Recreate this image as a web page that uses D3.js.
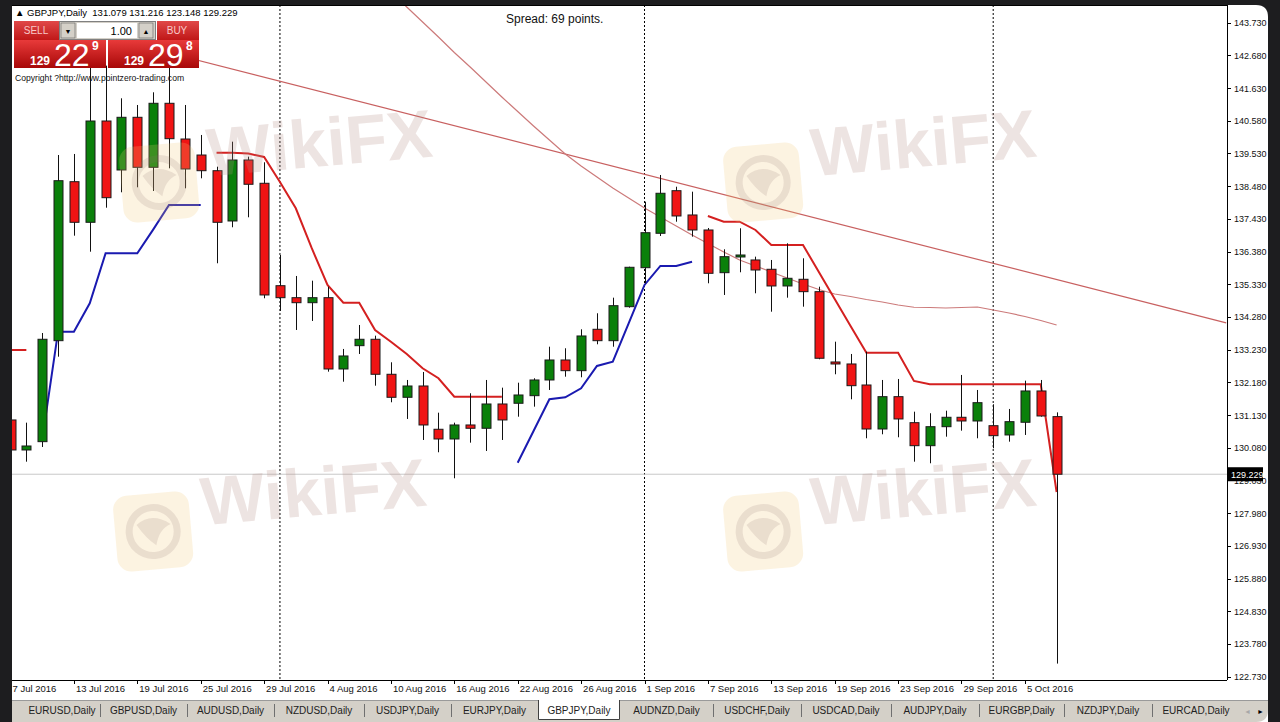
<!DOCTYPE html>
<html><head><meta charset="utf-8">
<script src="https://cdn.jsdelivr.net/npm/d3@7"></script>
<style>
html,body{margin:0;padding:0;background:#1d1d1f;overflow:hidden}
svg{display:block}
text{font-family:"Liberation Sans",Arial,sans-serif}
</style></head><body>
<svg id="c" width="1280" height="722"></svg>
<script>
// ---------------- DATA ----------------
const symbolTitle = "GBPJPY,Daily";
const dates = [
"2016-07-07","2016-07-08","2016-07-11","2016-07-12","2016-07-13","2016-07-14","2016-07-15","2016-07-18","2016-07-19","2016-07-20","2016-07-21","2016-07-22","2016-07-25","2016-07-26","2016-07-27","2016-07-28","2016-07-29",
"2016-08-01","2016-08-02","2016-08-03","2016-08-04","2016-08-05","2016-08-08","2016-08-09","2016-08-10","2016-08-11","2016-08-12","2016-08-15","2016-08-16","2016-08-17","2016-08-18","2016-08-19","2016-08-22","2016-08-23","2016-08-24","2016-08-25","2016-08-26","2016-08-29","2016-08-30","2016-08-31",
"2016-09-01","2016-09-02","2016-09-05","2016-09-06","2016-09-07","2016-09-08","2016-09-09","2016-09-12","2016-09-13","2016-09-14","2016-09-15","2016-09-16","2016-09-19","2016-09-20","2016-09-21","2016-09-22","2016-09-23","2016-09-26","2016-09-27","2016-09-28","2016-09-29","2016-09-30",
"2016-10-03","2016-10-04","2016-10-05","2016-10-06","2016-10-07"];
const open = [130.972,130.008,130.275,133.518,138.624,137.320,140.573,139.000,140.692,139.086,141.142,139.995,139.481,138.977,137.362,139.321,138.573,
135.284,134.899,134.738,134.899,132.609,133.358,133.563,132.439,131.700,132.063,130.673,130.361,130.811,130.705,131.485,131.508,131.752,132.256,132.898,132.555,133.884,133.518,134.610,
135.862,136.967,138.335,137.555,137.073,135.702,136.216,136.110,135.811,135.275,135.490,135.092,132.834,132.770,132.095,130.682,131.720,130.885,130.146,130.756,131.058,130.939,
130.788,130.490,130.898,131.903,131.079];
const high = [131.036,130.885,133.765,139.481,139.514,142.400,142.350,141.302,141.087,141.495,142.300,141.087,140.124,139.106,139.909,139.427,139.247,
136.270,135.596,135.445,135.252,133.252,134.022,133.679,132.824,132.256,132.513,131.206,130.885,131.829,132.256,132.009,132.169,132.311,133.325,133.274,133.884,134.398,134.899,135.894,
137.982,138.839,138.463,138.303,137.137,136.453,137.128,136.216,136.110,136.646,136.164,135.252,133.486,133.091,133.165,132.256,132.288,131.238,131.187,131.270,132.417,131.935,
131.476,131.325,132.234,132.256,131.216];
const low = [129.944,129.632,130.104,133.004,136.890,136.376,137.789,138.284,138.444,138.325,139.054,138.412,138.733,136.004,137.160,137.481,134.880,
134.472,133.862,134.151,132.523,132.201,133.091,132.073,131.540,131.004,130.329,129.934,129.099,130.243,129.976,130.329,131.077,131.399,131.935,132.362,132.343,133.402,133.325,134.578,
135.361,136.880,137.339,136.858,135.361,134.986,135.715,135.040,134.449,134.899,134.610,132.921,132.439,131.636,130.384,130.512,130.416,129.632,129.581,130.435,130.628,130.384,
130.063,130.275,130.490,131.077,123.148];
const close = [130.008,130.136,133.563,138.656,137.320,140.573,138.110,140.692,139.086,141.142,140.005,139.032,138.977,137.320,139.321,138.541,134.986,
134.899,134.738,134.899,132.609,133.027,133.563,132.439,131.700,132.063,130.811,130.361,130.811,130.705,131.485,130.972,131.774,132.256,132.898,132.555,133.669,133.518,134.642,135.875,
136.986,138.252,137.523,137.073,135.682,136.216,136.270,135.788,135.275,135.522,135.092,132.953,132.770,132.073,130.682,131.720,131.004,130.146,130.756,131.058,130.939,131.527,
130.467,130.917,131.903,131.100,129.229];
// red trailing line (resistance)
const upperBand = [133.219,133.219,null,null,null,null,null,null,null,null,null,null,null,139.555,139.555,139.530,139.417,
138.614,137.770,136.495,135.307,134.738,134.738,133.862,133.486,133.091,132.632,132.311,131.720,131.720,131.720,131.720,null,null,null,null,null,null,null,null,
null,null,null,null,137.523,137.339,137.339,137.073,136.591,136.591,136.591,135.724,134.857,133.990,133.133,133.133,133.133,132.224,132.118,132.118,132.118,132.118,
132.118,132.118,132.118,132.118,128.659];
// blue trailing line (support)
const lowerBand = [null,null,130.330,133.807,133.807,134.719,136.325,136.325,136.325,137.083,137.876,137.876,137.876,null,null,null,null,
null,null,null,null,null,null,null,null,null,null,null,null,null,null,null,129.600,130.618,131.636,131.700,131.989,132.706,132.844,134.077,
135.307,135.917,135.917,136.055,null,null,null,null,null,null,null,null,null,null,null,null,null,null,null,null,null,null,
null,null,null,null,null];
// thin moving average
const maLine = [null,null,null,null,null,null,null,null,null,null,null,null,null,null,null,null,null,
null,null,null,null,null,null,null,144.716,144.234,143.752,143.271,142.773,142.307,141.826,141.344,140.878,140.413,139.963,139.514,139.128,138.775,138.422,138.101,
137.779,137.490,137.201,136.912,136.639,136.367,136.110,135.917,135.724,135.532,135.339,135.162,135.018,134.937,134.841,134.761,134.664,134.591,134.584,134.568,134.584,134.600,
134.504,134.408,134.295,134.167,134.022];
// trend line anchors [bar index, price]
const trendIdx = [6, 76.7];
const trendPrice = [143.28, 134.09];
const yTicks = [143.730,142.680,141.630,140.580,139.530,138.480,137.430,136.380,135.330,134.280,133.230,132.180,131.130,130.080,129.030,127.980,126.930,125.880,124.830,123.780,122.730];
const spreadPoints = 69;
const sellPrice = ["129","22","9"], buyPrice = ["129","29","8"];
const tabs = ["EURUSD,Daily","GBPUSD,Daily","AUDUSD,Daily","NZDUSD,Daily","USDJPY,Daily","EURJPY,Daily","GBPJPY,Daily","AUDNZD,Daily","USDCHF,Daily","USDCAD,Daily","AUDJPY,Daily","EURGBP,Daily","NZDJPY,Daily","EURCAD,Daily"];
const activeTab = "GBPJPY,Daily";

// ---------------- LAYOUT ----------------
const svg = d3.select("#c");
const L = 12, T = 5, R = 1227, B = 680;
const xs = d3.scaleLinear().domain([0, dates.length - 1]).range([10.5, 1056.6]);
const ys = d3.scaleLinear().domain([122.73, 143.73]).range([676.6, 22.7]);
const parse = d3.timeParse("%Y-%m-%d");
const fmt = d3.timeFormat("%-d %b %Y");
const N = dates.length;
const idx = d3.range(N);

// window background
svg.append("path").attr("d", `M12,5 H1256 Q1268,5 1268,17 V722 H12 Z`).attr("fill", "#ffffff");

const defs = svg.append("defs");
defs.append("clipPath").attr("id", "plot").append("rect").attr("x", L).attr("y", T).attr("width", R - L).attr("height", B - T);
const g1 = defs.append("linearGradient").attr("id", "bigRed").attr("x1", 0).attr("y1", 0).attr("x2", 0).attr("y2", 1);
g1.append("stop").attr("offset", 0).attr("stop-color", "#e83a3a");
g1.append("stop").attr("offset", 1).attr("stop-color", "#a80808");
const g2 = defs.append("linearGradient").attr("id", "btnRed").attr("x1", 0).attr("y1", 0).attr("x2", 0).attr("y2", 1);
g2.append("stop").attr("offset", 0).attr("stop-color", "#e04848");
g2.append("stop").attr("offset", 1).attr("stop-color", "#c01818");

const plot = svg.append("g").attr("clip-path", "url(#plot)");

// month separators
const sepIdx = idx.filter(i => i > 0 && parse(dates[i]).getMonth() !== parse(dates[i - 1]).getMonth());
plot.selectAll("line.sep").data(sepIdx).join("line")
  .attr("x1", d => xs(d)).attr("x2", d => xs(d)).attr("y1", T).attr("y2", B)
  .attr("stroke", "#000").attr("stroke-width", 1).attr("stroke-dasharray", "2,2");

// current price line
const last = N - 1;
plot.append("line").attr("x1", L).attr("x2", R).attr("y1", ys(close[last])).attr("y2", ys(close[last]))
  .attr("stroke", "#c8c8c8").attr("stroke-width", 1);

// thin lines
const trendLine = d3.line().x(d => xs(d[0])).y(d => ys(d[1]));
plot.append("path").attr("d", trendLine(trendIdx.map((v, k) => [v, trendPrice[k]])))
  .attr("fill", "none").attr("stroke", "#c86060").attr("stroke-width", 1.2);
const lineOf = arr => d3.line().defined(i => arr[i] != null).x(i => xs(i)).y(i => ys(arr[i]));
plot.append("path").attr("d", lineOf(maLine)(idx)).attr("fill", "none").attr("stroke", "#cc7a7a").attr("stroke-width", 1.2);

// indicator lines (drawn beneath candles)
plot.append("path").attr("d", lineOf(upperBand)(idx)).attr("fill", "none").attr("stroke", "#d42020").attr("stroke-width", 2);
plot.append("path").attr("d", lineOf(lowerBand)(idx)).attr("fill", "none").attr("stroke", "#1a1ab0").attr("stroke-width", 2);

// candles
const cg = plot.append("g");
cg.selectAll("line.wick").data(idx).join("line")
  .attr("x1", i => Math.round(xs(i)) + 0.5).attr("x2", i => Math.round(xs(i)) + 0.5)
  .attr("y1", i => ys(high[i])).attr("y2", i => ys(low[i]))
  .attr("stroke", "#111").attr("stroke-width", 1);
cg.selectAll("rect.body").data(idx).join("rect")
  .attr("x", i => Math.round(xs(i)) - 4).attr("width", 9)
  .attr("y", i => ys(Math.max(open[i], close[i])))
  .attr("height", i => Math.max(2, Math.abs(ys(open[i]) - ys(close[i]))))
  .attr("fill", i => close[i] >= open[i] ? "#0a800a" : "#f01414")
  .attr("stroke", "#1a1a1a").attr("stroke-width", 1);

// watermarks
const wm = [[118, 148], [722, 148], [112, 497], [722, 497]];
const wmg = svg.append("g").attr("pointer-events", "none");
wm.forEach(([x, y]) => {
  const g = wmg.append("g").attr("transform", `translate(${x},${y}) rotate(-5)`);
  g.append("rect").attr("x", 0).attr("y", 0).attr("width", 76).attr("height", 76).attr("rx", 14)
    .attr("fill", "#f0c878").attr("opacity", 0.22);
  g.append("circle").attr("cx", 38).attr("cy", 38).attr("r", 24).attr("fill", "none")
    .attr("stroke", "#907070").attr("stroke-width", 7).attr("opacity", 0.16);
  g.append("path").attr("d", "M22,30 Q38,18 56,32 Q44,36 40,52 Q30,44 22,30 Z").attr("fill", "#907070").attr("opacity", 0.16);
  g.append("text").attr("x", 88).attr("y", 36).text("WikiFX")
    .attr("font-size", 68).attr("font-weight", "bold").attr("fill", "#b89088").attr("opacity", 0.24);
});

// frame
svg.append("line").attr("x1", L).attr("x2", R).attr("y1", T + 0.5).attr("y2", T + 0.5).attr("stroke", "#000");
svg.append("line").attr("x1", R + 0.5).attr("x2", R + 0.5).attr("y1", T).attr("y2", B).attr("stroke", "#000");
svg.append("line").attr("x1", L).attr("x2", R).attr("y1", B + 0.5).attr("y2", B + 0.5).attr("stroke", "#000");

// right axis
const ya = svg.append("g");
ya.selectAll("line").data(yTicks).join("line")
  .attr("x1", R).attr("x2", R + 4).attr("y1", d => Math.round(ys(d)) + 0.5).attr("y2", d => Math.round(ys(d)) + 0.5).attr("stroke", "#000");
ya.selectAll("text").data(yTicks).join("text")
  .attr("x", 1234).attr("y", d => ys(d) + 3.5).text(d => d.toFixed(3))
  .attr("font-size", 9).attr("fill", "#111");
// current price box
svg.append("rect").attr("x", R + 1).attr("y", ys(close[last]) - 7).attr("width", 35).attr("height", 14).attr("fill", "#000");
svg.append("text").attr("x", 1231).attr("y", ys(close[last]) + 3.5).text(close[last].toFixed(3))
  .attr("font-size", 9).attr("fill", "#fff");

// x axis
const xTickIdx = idx.filter(i => i % 4 === 0);
const xa = svg.append("g");
xa.selectAll("line").data(xTickIdx).join("line")
  .attr("x1", i => Math.round(xs(i)) + 0.5).attr("x2", i => Math.round(xs(i)) + 0.5).attr("y1", B).attr("y2", B + 4).attr("stroke", "#000");
xa.selectAll("text").data(xTickIdx).join("text")
  .attr("x", i => xs(i) + 2).attr("y", 692).text(i => fmt(parse(dates[i])))
  .attr("font-size", 9.5).attr("fill", "#111");

// left dark strip
svg.append("rect").attr("x", 0).attr("y", 0).attr("width", L).attr("height", 722).attr("fill", "#1d1d1f");

// header
svg.append("text").attr("x", 15).attr("y", 16).text("\u25B2 " + symbolTitle + "  " +
  [open[last], high[last], low[last], close[last]].map(v => v.toFixed(3)).join(" "))
  .attr("font-size", 9.5).attr("fill", "#000").attr("xml:space", "preserve");
svg.append("text").attr("x", 506).attr("y", 23).text(`Spread: ${spreadPoints} points.`).attr("font-size", 12).attr("fill", "#111");

// one-click panel
const p = svg.append("g");
p.append("rect").attr("x", 14).attr("y", 21).attr("width", 45).attr("height", 19).attr("fill", "url(#btnRed)");
p.append("text").attr("x", 36).attr("y", 34).attr("text-anchor", "middle").text("SELL").attr("font-size", 10).attr("fill", "#f8c8c8");
p.append("rect").attr("x", 59.5).attr("y", 21.5).attr("width", 96).attr("height", 18).attr("fill", "#d4d0c8").attr("stroke", "#808080");
p.append("rect").attr("x", 61).attr("y", 23).attr("width", 14).attr("height", 15).attr("fill", "#d4d0c8").attr("stroke", "#606060").attr("stroke-width", 0.6);
p.append("text").attr("x", 68).attr("y", 34).attr("text-anchor", "middle").text("\u25BC").attr("font-size", 7).attr("fill", "#000");
p.append("rect").attr("x", 77).attr("y", 23).attr("width", 60).attr("height", 15).attr("fill", "#fff");
p.append("text").attr("x", 132).attr("y", 35).attr("text-anchor", "end").text("1.00").attr("font-size", 11).attr("fill", "#000");
p.append("rect").attr("x", 139).attr("y", 23).attr("width", 14).attr("height", 15).attr("fill", "#d4d0c8").attr("stroke", "#606060").attr("stroke-width", 0.6);
p.append("text").attr("x", 146).attr("y", 34).attr("text-anchor", "middle").text("\u25B2").attr("font-size", 7).attr("fill", "#000");
p.append("rect").attr("x", 157).attr("y", 21).attr("width", 42).attr("height", 19).attr("fill", "url(#btnRed)");
p.append("text").attr("x", 177).attr("y", 34).attr("text-anchor", "middle").text("BUY").attr("font-size", 10).attr("fill", "#f8c8c8");
[[14, sellPrice], [108, buyPrice]].forEach(([x0, pr]) => {
  p.append("rect").attr("x", x0).attr("y", 40).attr("width", x0 === 14 ? 92 : 91).attr("height", 28).attr("fill", "url(#bigRed)");
  p.append("text").attr("x", x0 + 16).attr("y", 65).text(pr[0]).attr("font-size", 12).attr("font-weight", "bold").attr("fill", "#fff");
  p.append("text").attr("x", x0 + 40).attr("y", 66).text(pr[1]).attr("font-size", 32).attr("fill", "#fff");
  p.append("text").attr("x", x0 + 78).attr("y", 50).text(pr[2]).attr("font-size", 12).attr("font-weight", "bold").attr("fill", "#fff");
});
svg.append("text").attr("x", 15).attr("y", 81).text("Copyright ?http://www.pointzero-trading.com").attr("font-size", 8.6).attr("fill", "#111");

// tabs bar
svg.append("path").attr("d", "M12,701 H1268 V710 Q1268,722 1256,722 H12 Z").attr("fill", "#d4d0c8");
svg.append("line").attr("x1", 12).attr("x2", 1268).attr("y1", 700.5).attr("y2", 700.5).attr("stroke", "#9a9a9a");
const tabEdges = [12, 100, 187, 274, 364, 451, 538, 620, 713, 801, 891, 979, 1064, 1152, 1240];
const tg = svg.append("g");
tabs.forEach((t, k) => {
  const a = tabEdges[k], b = tabEdges[k + 1];
  if (t === activeTab) {
    tg.append("path").attr("d", `M${a + 0.5},700 V719.5 H${b - 0.5} V700`).attr("fill", "#fff").attr("stroke", "#404040");
  } else if (k > 0 && tabs[k - 1] !== activeTab) {
    tg.append("line").attr("x1", a + 0.5).attr("x2", a + 0.5).attr("y1", 704).attr("y2", 717).attr("stroke", "#707070");
  }
  tg.append("text").attr("x", (a + b) / 2 + (k === 0 ? 6 : 0)).attr("y", 714).attr("text-anchor", "middle").text(t)
    .attr("font-size", 10).attr("fill", "#222");
});
tg.append("line").attr("x1", 1152.5).attr("x2", 1152.5).attr("y1", 704).attr("y2", 717).attr("stroke", "#707070");
tg.append("text").attr("x", 1244).attr("y", 714).text("\u25C4").attr("font-size", 7).attr("fill", "#a8a8a8");
tg.append("text").attr("x", 1257).attr("y", 714).text("\u25BA").attr("font-size", 7).attr("fill", "#000");
</script>
</body></html>
